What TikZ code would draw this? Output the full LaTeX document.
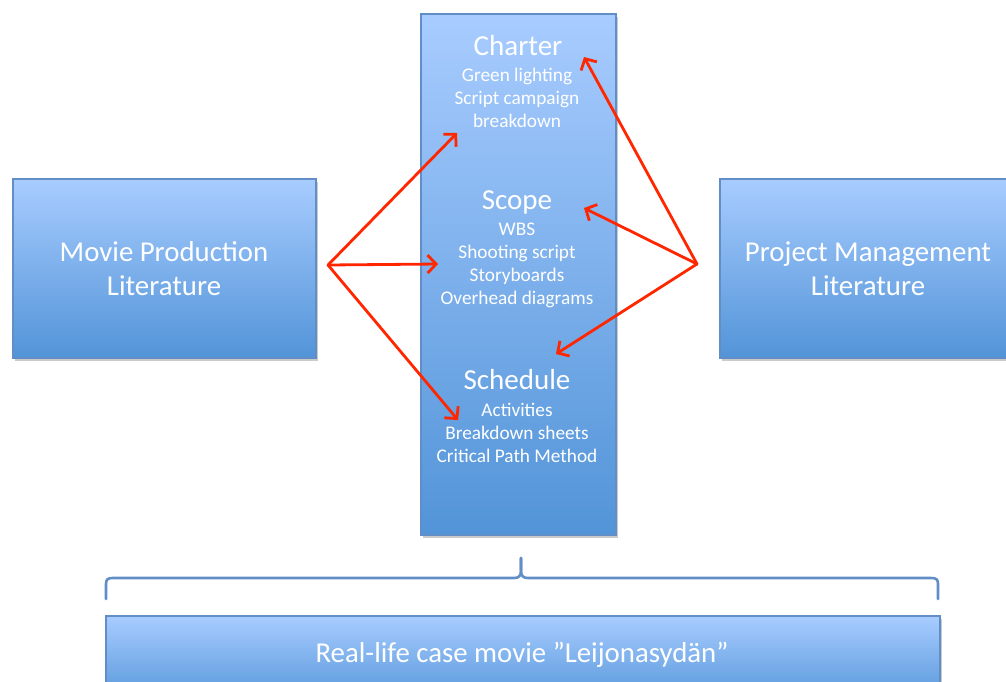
\documentclass[tikz,border=0pt]{standalone}
\usepackage{fontspec}
\setmainfont{Carlito}
\usetikzlibrary{arrows.meta,shadows}
\definecolor{boxtop}{RGB}{168,204,255}
\definecolor{boxbot}{RGB}{82,148,216}
\definecolor{boxedge}{RGB}{98,142,200}
\definecolor{arrred}{RGB}{255,38,0}
\tikzset{
  bluebox/.style={rectangle, draw=boxedge, line width=1.5pt, top color=boxtop, bottom color=boxbot,
    drop shadow={shadow xshift=2pt, shadow yshift=-3pt, opacity=0.35, fill=black!60},
    inner sep=0pt, text=white, align=center},
  bigtxt/.style={text=white, font=\fontsize{28.8}{34}\selectfont, align=center, inner sep=0pt},
  headtxt/.style={text=white, font=\fontsize{29}{30}\selectfont, inner sep=0pt},
  itemtxt/.style={text=white, font=\fontsize{19.3}{23}\selectfont, align=center, inner sep=0pt},
  redarrow/.style={draw=arrred, line width=2.8pt, -{Straight Barb[length=8.5pt,width=18pt]}, line cap=round, line join=round},
  brace/.style={draw=boxedge, line width=2.6pt, line cap=round, line join=round}
}
\begin{document}
\begin{tikzpicture}[x=1pt,y=-1pt]
\useasboundingbox (0,0) rectangle (1006,681);
\clip (0,0) rectangle (1006,681);
% boxes
\node[bluebox, minimum width=303pt, minimum height=179pt, anchor=north west] (mpl) at (12,178) {};
\node[bigtxt] (mpltxt) at (164,269) {Movie Production\\Literature};
\node[bluebox, minimum width=300pt, minimum height=179pt, anchor=north west] (pml) at (719,178) {};
\node[bigtxt] (pmltxt) at (868,269) {Project Management\\Literature};
\node[bluebox, minimum width=195pt, minimum height=521pt, anchor=north west] (center) at (420,13) {};
\node[bluebox, minimum width=834pt, minimum height=90pt, anchor=north west] (case) at (105,615) {};
\node[bigtxt] (casetxt) at (522,655) {Real-life case movie ”Leijonasydän”};
% center texts
\node[headtxt] (charter) at (518,46) {Charter};
\node[itemtxt] (charteritems) at (517,98) {Green lighting\\Script campaign\\breakdown};
\node[headtxt] (scope) at (517,202) {Scope};
\node[itemtxt] (scopeitems) at (517,265) {WBS\\Shooting script\\Storyboards\\Overhead diagrams};
\node[headtxt] (schedule) at (517,380) {Schedule};
\node[itemtxt] (scheduleitems) at (517,433) {Activities\\Breakdown sheets\\Critical Path Method};
% arrow coordinates
\coordinate (lsrc) at (328,265);
\coordinate (rsrc) at (697,264);
\coordinate (lcharter) at (457,133);
\coordinate (lscope) at (438,264);
\coordinate (lschedule) at (458,420);
\coordinate (rcharter) at (584,57);
\coordinate (rscope) at (584,208);
\coordinate (rschedule) at (556,354);
\draw[redarrow] (lsrc) -- (lcharter);
\draw[redarrow] (lsrc) -- (lscope);
\draw[redarrow] (lsrc) -- (lschedule);
\draw[redarrow] (rsrc) -- (rcharter);
\draw[redarrow] (rsrc) -- (rscope);
\draw[redarrow] (rsrc) -- (rschedule);
% brace
\coordinate (bl) at (106,599);
\coordinate (bp) at (521,558);
\coordinate (br) at (938,599);
\draw[brace] (bl) -- (106,584) .. controls (106,579) and (108,578) .. (113,578)
  -- (514,578) .. controls (519,578) and (521,576) .. (521,570) -- (bp);
\draw[brace] (bp) -- (521,570) .. controls (521,576) and (523,578) .. (528,578)
  -- (931,578) .. controls (936,578) and (938,579) .. (938,584) -- (br);
\end{tikzpicture}
\end{document}
